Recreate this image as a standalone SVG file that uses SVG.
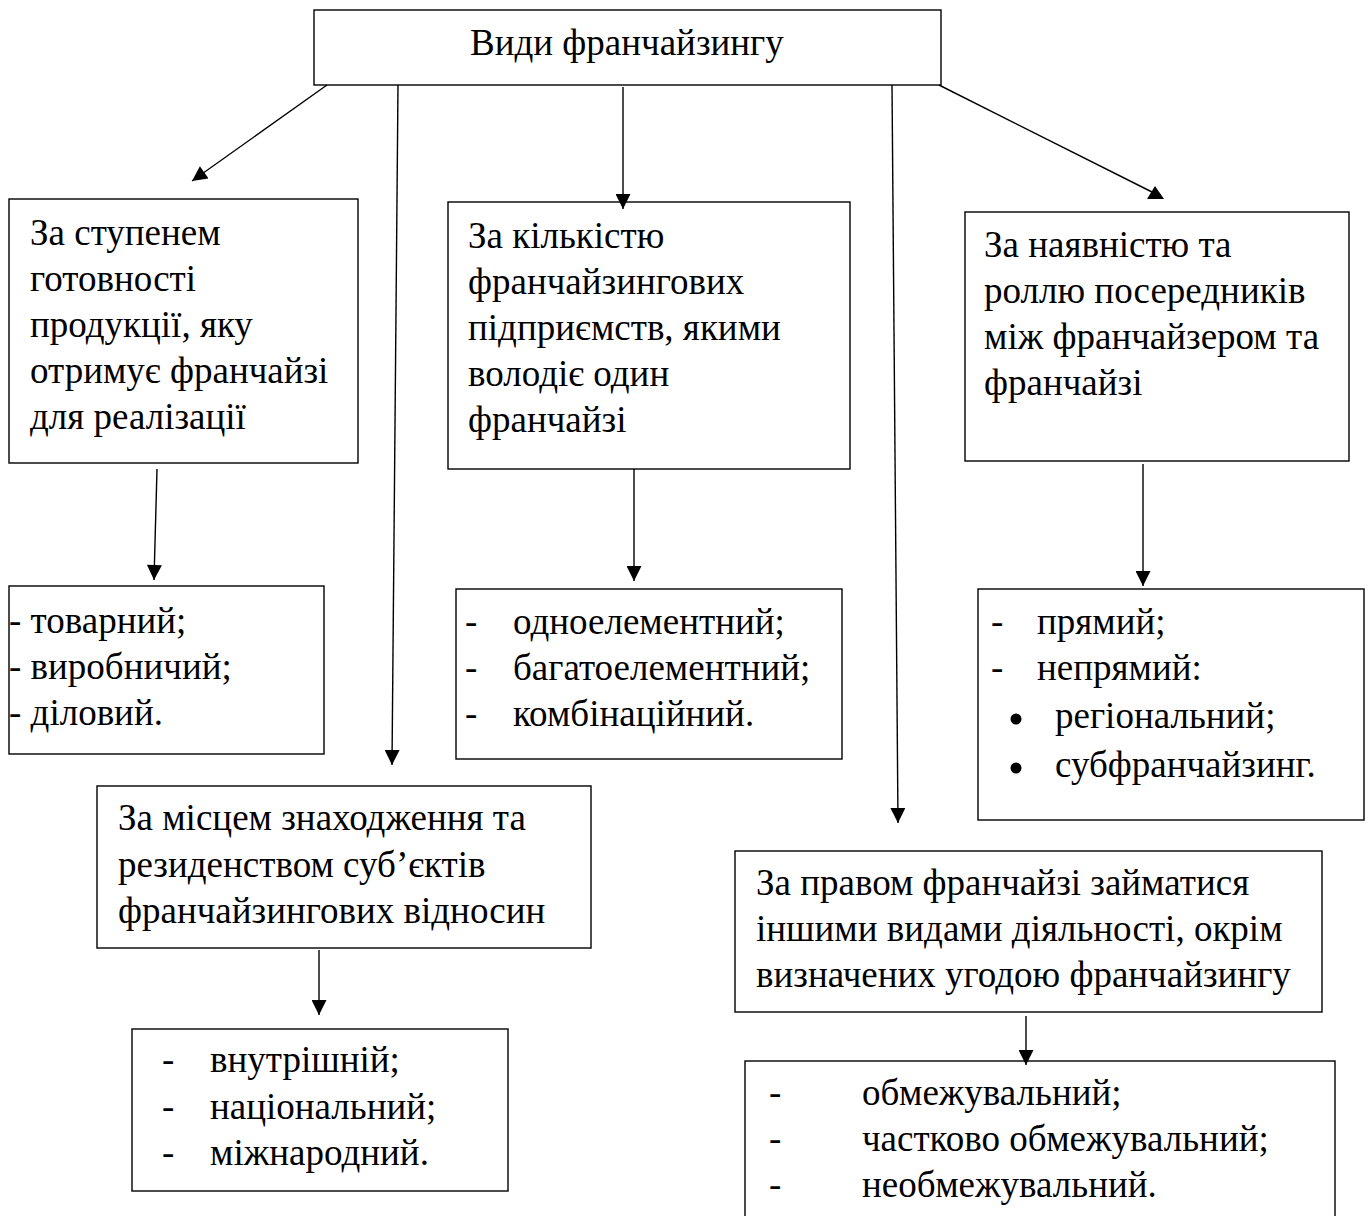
<svg xmlns="http://www.w3.org/2000/svg" width="1370" height="1216" viewBox="0 0 1370 1216">
<style>
.box{fill:#fff;stroke:#000;stroke-width:1.4}
.t{font-family:"Liberation Serif","Times New Roman",serif;font-size:37px;fill:#000}
.c{stroke:#000;stroke-width:1.4;fill:none}
</style>
<defs>
<marker id="ah" viewBox="0 0 16 16" refX="16" refY="8" markerWidth="16" markerHeight="15" markerUnits="userSpaceOnUse" orient="auto">
<path d="M0,0 L16,8 L0,16 z" fill="#000"/>
</marker>
</defs>
<rect width="1370" height="1216" fill="#fff"/>

<g id="root">
<rect class="box" x="314" y="10" width="627" height="75"/>
<text class="t" x="470" y="55">Види франчайзингу</text>
</g>

<g id="n-readiness">
<rect class="box" x="9" y="199" width="349" height="264"/>
<text class="t" x="30" y="245">За ступенем</text>
<text class="t" x="30" y="291">готовності</text>
<text class="t" x="30" y="337">продукції, яку</text>
<text class="t" x="30" y="383">отримує франчайзі</text>
<text class="t" x="30" y="429">для реалізації</text>
</g>

<g id="n-count">
<rect class="box" x="448" y="202" width="402" height="267"/>
<text class="t" x="468" y="248">За кількістю</text>
<text class="t" x="468" y="294">франчайзингових</text>
<text class="t" x="468" y="340">підприємств, якими</text>
<text class="t" x="468" y="386">володіє один</text>
<text class="t" x="468" y="432">франчайзі</text>
</g>

<g id="n-intermediaries">
<rect class="box" x="965" y="212" width="384" height="249"/>
<text class="t" x="984" y="257">За наявністю та</text>
<text class="t" x="984" y="303">роллю посередників</text>
<text class="t" x="984" y="349">між франчайзером та</text>
<text class="t" x="984" y="395">франчайзі</text>
</g>

<g id="n-readiness-list">
<rect class="box" x="9" y="586" width="315" height="168"/>
<text class="t" x="9" y="633">- товарний;</text>
<text class="t" x="9" y="679">- виробничий;</text>
<text class="t" x="9" y="725">- діловий.</text>
</g>

<g id="n-count-list">
<rect class="box" x="456" y="589" width="386" height="170"/>
<text class="t" x="465" y="634">-</text>
<text class="t" x="513" y="634">одноелементний;</text>
<text class="t" x="465" y="680">-</text>
<text class="t" x="513" y="680">багатоелементний;</text>
<text class="t" x="465" y="726">-</text>
<text class="t" x="513" y="726">комбінаційний.</text>
</g>

<g id="n-intermediaries-list">
<rect class="box" x="978" y="589" width="386" height="231"/>
<text class="t" x="991" y="634">-</text>
<text class="t" x="1037" y="634">прямий;</text>
<text class="t" x="991" y="680">-</text>
<text class="t" x="1037" y="680">непрямий:</text>
<circle cx="1016" cy="719" r="5.5" fill="#000"/>
<text class="t" x="1055" y="728">регіональний;</text>
<circle cx="1016" cy="768" r="5.5" fill="#000"/>
<text class="t" x="1055" y="777">субфранчайзинг.</text>
</g>

<g id="n-residence">
<rect class="box" x="97" y="786" width="494" height="162"/>
<text class="t" x="118" y="830">За місцем знаходження та</text>
<text class="t" x="118" y="877">резиденством суб’єктів</text>
<text class="t" x="118" y="923">франчайзингових відносин</text>
</g>

<g id="n-residence-list">
<rect class="box" x="132" y="1029" width="376" height="162"/>
<text class="t" x="162" y="1072">-</text>
<text class="t" x="210" y="1072">внутрішній;</text>
<text class="t" x="162" y="1119">-</text>
<text class="t" x="210" y="1119">національний;</text>
<text class="t" x="162" y="1165">-</text>
<text class="t" x="210" y="1165">міжнародний.</text>
</g>

<g id="n-right">
<rect class="box" x="735" y="851" width="587" height="161"/>
<text class="t" x="756" y="895">За правом франчайзі займатися</text>
<text class="t" x="756" y="941">іншими видами діяльності, окрім</text>
<text class="t" x="756" y="987">визначених угодою франчайзингу</text>
</g>

<g id="n-right-list">
<rect class="box" x="745" y="1061" width="590" height="170"/>
<text class="t" x="769" y="1105">-</text>
<text class="t" x="862" y="1105">обмежувальний;</text>
<text class="t" x="769" y="1151">-</text>
<text class="t" x="862" y="1151">частково обмежувальний;</text>
<text class="t" x="769" y="1197">-</text>
<text class="t" x="862" y="1197">необмежувальний.</text>
</g>

<g id="connectors">
<line class="c" x1="327" y1="85" x2="192" y2="181" marker-end="url(#ah)"/>
<line class="c" x1="398" y1="85" x2="392" y2="765" marker-end="url(#ah)"/>
<line class="c" x1="623" y1="87" x2="623" y2="209" marker-end="url(#ah)"/>
<line class="c" x1="892" y1="85" x2="898" y2="823" marker-end="url(#ah)"/>
<line class="c" x1="939" y1="85" x2="1152" y2="192"/>
<polygon points="1155,186 1147,199 1164,199" fill="#000"/>
<line class="c" x1="157" y1="469" x2="154" y2="580" marker-end="url(#ah)"/>
<line class="c" x1="634" y1="469" x2="634" y2="581" marker-end="url(#ah)"/>
<line class="c" x1="1143" y1="464" x2="1143" y2="586" marker-end="url(#ah)"/>
<line class="c" x1="319" y1="950" x2="319" y2="1015" marker-end="url(#ah)"/>
<line class="c" x1="1026" y1="1016" x2="1026" y2="1065" marker-end="url(#ah)"/>
</g>
</svg>
